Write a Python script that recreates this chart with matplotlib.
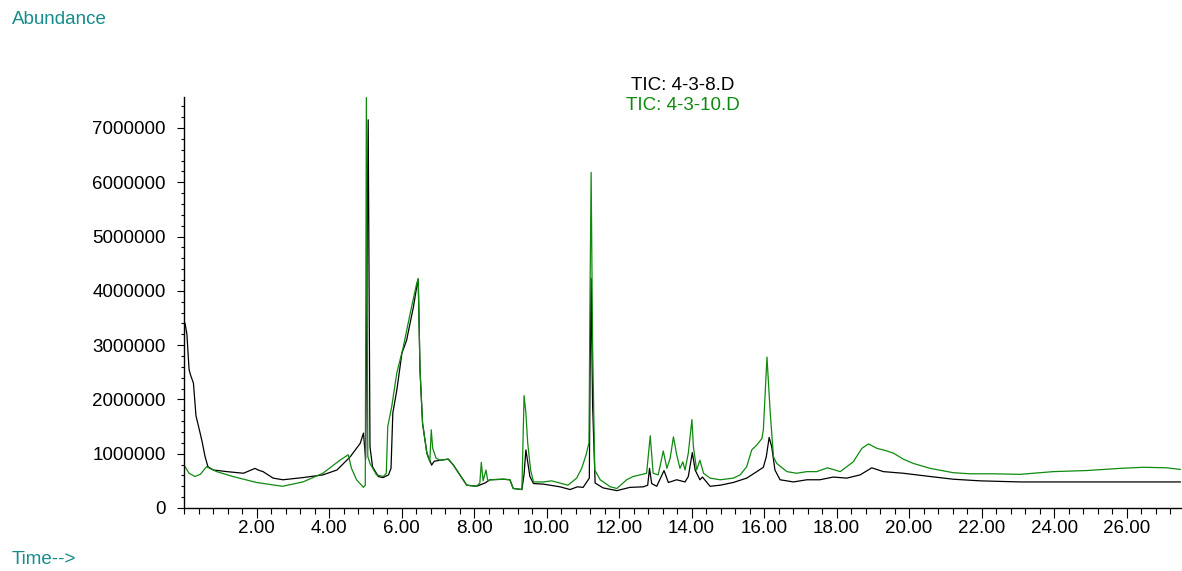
import matplotlib
matplotlib.use("Agg")
import matplotlib.pyplot as plt
from matplotlib.ticker import MultipleLocator, FixedLocator, FuncFormatter

plt.rcParams['font.family'] = ['Liberation Sans', 'DejaVu Sans']

# ---- data (time in min, abundance) ----
time_8 = [0.03, 0.08, 0.14, 0.18, 0.26, 0.33, 0.42, 0.50, 0.58, 0.66, 0.81, 1.18, 1.64, 1.96,
          2.04, 2.18, 2.46, 2.73, 3.28, 3.83, 4.22, 4.58, 4.86, 4.95, 5.01, 5.08, 5.13, 5.20,
          5.36, 5.49, 5.64, 5.71, 5.76, 5.87, 6.01, 6.14, 6.33, 6.42, 6.46, 6.51, 6.58, 6.70,
          6.83, 6.90, 7.06, 7.29, 7.43, 7.61, 7.80, 8.07, 8.30, 8.44, 8.81, 8.99, 9.08, 9.32,
          9.38, 9.43, 9.48, 9.54, 9.64, 9.91, 10.37, 10.65, 10.85, 11.01, 11.18, 11.20, 11.23,
          11.27, 11.34, 11.56, 11.94, 12.30, 12.67, 12.79, 12.84, 12.90, 13.04, 13.24, 13.36,
          13.59, 13.82, 13.91, 14.02, 14.10, 14.23, 14.30, 14.51, 14.79, 15.15, 15.52, 15.80,
          15.98, 16.06, 16.14, 16.21, 16.30, 16.44, 16.81, 17.18, 17.54, 17.91, 18.28, 18.65,
          18.97, 19.29, 19.84, 20.58, 21.22, 21.96, 23.06, 24.90, 27.48]
abund_8 = [3.40e6, 3.20e6, 2.55e6, 2.45e6, 2.30e6, 1.70e6, 1.45e6, 1.22e6, 0.95e6, 0.76e6, 0.70e6,
           0.67e6, 0.64e6, 0.73e6, 0.70e6, 0.67e6, 0.55e6, 0.52e6, 0.56e6, 0.61e6, 0.70e6, 0.94e6,
           1.19e6, 1.38e6, 0.90e6, 7.15e6, 1.13e6, 0.76e6, 0.58e6, 0.56e6, 0.61e6, 0.73e6, 1.75e6,
           2.17e6, 2.85e6, 3.09e6, 3.71e6, 4.08e6, 4.22e6, 2.54e6, 1.56e6, 1.01e6, 0.79e6, 0.86e6,
           0.88e6, 0.90e6, 0.79e6, 0.61e6, 0.42e6, 0.40e6, 0.46e6, 0.52e6, 0.53e6, 0.52e6, 0.36e6,
           0.34e6, 0.62e6, 1.07e6, 0.85e6, 0.58e6, 0.45e6, 0.44e6, 0.39e6, 0.34e6, 0.39e6, 0.38e6,
           0.55e6, 2.40e6, 4.23e6, 1.90e6, 0.46e6, 0.37e6, 0.32e6, 0.38e6, 0.39e6, 0.42e6, 0.73e6,
           0.45e6, 0.40e6, 0.69e6, 0.47e6, 0.52e6, 0.48e6, 0.58e6, 1.02e6, 0.70e6, 0.52e6, 0.57e6,
           0.40e6, 0.42e6, 0.47e6, 0.55e6, 0.67e6, 0.75e6, 0.94e6, 1.30e6, 1.13e6, 0.70e6, 0.52e6,
           0.48e6, 0.52e6, 0.52e6, 0.57e6, 0.55e6, 0.61e6, 0.74e6, 0.67e6, 0.64e6, 0.58e6, 0.53e6,
           0.50e6, 0.48e6, 0.48e6, 0.48e6]

time_10 = [0.03, 0.14, 0.30, 0.45, 0.62, 0.90, 1.35, 2.00, 2.72, 3.28, 3.83, 4.30, 4.53, 4.62,
           4.76, 4.95, 5.00, 5.03, 5.07, 5.13, 5.31, 5.50, 5.58, 5.62, 5.73, 5.87, 6.05, 6.24,
           6.42, 6.46, 6.51, 6.58, 6.70, 6.78, 6.82, 6.86, 6.95, 7.06, 7.29, 7.43, 7.61, 7.80,
           8.07, 8.16, 8.20, 8.25, 8.33, 8.38, 8.44, 8.81, 8.99, 9.08, 9.32, 9.38, 9.43, 9.48,
           9.56, 9.64, 9.91, 10.14, 10.59, 10.83, 10.97, 11.09, 11.17, 11.20, 11.23, 11.27, 11.33,
           11.48, 11.76, 11.94, 12.21, 12.39, 12.58, 12.76, 12.86, 12.94, 13.08, 13.22, 13.32,
           13.41, 13.50, 13.59, 13.68, 13.76, 13.82, 13.91, 14.01, 14.05, 14.14, 14.23, 14.33,
           14.51, 14.79, 15.15, 15.34, 15.52, 15.66, 15.80, 15.94, 15.98, 16.08, 16.17, 16.26,
           16.35, 16.63, 16.90, 17.18, 17.45, 17.75, 18.10, 18.46, 18.70, 18.88, 19.11, 19.39,
           19.57, 19.84, 20.12, 20.58, 21.22, 21.68, 22.33, 23.06, 23.98, 24.90, 25.82, 26.46,
           27.11, 27.48]
abund_10 = [0.76e6, 0.64e6, 0.58e6, 0.62e6, 0.76e6, 0.67e6, 0.58e6, 0.47e6, 0.40e6, 0.48e6, 0.64e6,
            0.88e6, 0.98e6, 0.73e6, 0.52e6, 0.38e6, 0.42e6, 7.56e6, 0.95e6, 0.82e6, 0.61e6, 0.58e6,
            0.64e6, 1.50e6, 1.87e6, 2.49e6, 2.97e6, 3.59e6, 4.14e6, 4.22e6, 2.54e6, 1.56e6, 1.00e6,
            0.85e6, 1.44e6, 1.10e6, 0.92e6, 0.88e6, 0.90e6, 0.79e6, 0.61e6, 0.42e6, 0.40e6, 0.46e6,
            0.84e6, 0.50e6, 0.70e6, 0.50e6, 0.52e6, 0.53e6, 0.52e6, 0.36e6, 0.34e6, 2.07e6, 1.75e6,
            1.20e6, 0.70e6, 0.48e6, 0.48e6, 0.50e6, 0.42e6, 0.55e6, 0.73e6, 0.98e6, 1.20e6, 4.00e6,
            6.18e6, 3.00e6, 0.70e6, 0.52e6, 0.39e6, 0.36e6, 0.52e6, 0.58e6, 0.61e6, 0.64e6, 1.33e6,
            0.64e6, 0.61e6, 1.05e6, 0.73e6, 0.92e6, 1.31e6, 0.98e6, 0.73e6, 0.85e6, 0.70e6, 1.01e6,
            1.63e6, 1.13e6, 0.70e6, 0.88e6, 0.64e6, 0.55e6, 0.52e6, 0.55e6, 0.61e6, 0.76e6, 1.07e6,
            1.16e6, 1.28e6, 1.44e6, 2.78e6, 1.75e6, 0.94e6, 0.82e6, 0.67e6, 0.64e6, 0.67e6, 0.67e6,
            0.74e6, 0.67e6, 0.85e6, 1.10e6, 1.18e6, 1.10e6, 1.05e6, 1.01e6, 0.90e6, 0.82e6, 0.73e6,
            0.65e6, 0.63e6, 0.63e6, 0.62e6, 0.67e6, 0.69e6, 0.73e6, 0.75e6, 0.74e6, 0.71e6]

label_8 = "TIC: 4-3-8.D"
label_10 = "TIC: 4-3-10.D"
x_major = [2, 4, 6, 8, 10, 12, 14, 16, 18, 20, 22, 24, 26]

GREEN = "#0e8a0e"
TEAL = "#178c8c"

fig = plt.figure(figsize=(11.82, 5.71), dpi=100)
ax = fig.add_axes([184 / 1182, 63 / 571, 997 / 1182, 411 / 571])

ax.plot(time_8, abund_8, color="black", lw=0.9)
ax.plot(time_10, abund_10, color=GREEN, lw=0.9)

ax.set_xlim(0, 27.5)
ax.set_ylim(0, 7.57e6)

for s in ("top", "right"):
    ax.spines[s].set_visible(False)
for s in ("left", "bottom"):
    ax.spines[s].set_linewidth(1.0)

ax.xaxis.set_major_locator(FixedLocator(x_major))
ax.xaxis.set_minor_locator(MultipleLocator(0.4))
ax.xaxis.set_major_formatter(FuncFormatter(lambda v, p: f"{v:.2f}"))
ax.yaxis.set_major_locator(MultipleLocator(1e6))
ax.yaxis.set_minor_locator(MultipleLocator(2e5))
ax.yaxis.set_major_formatter(FuncFormatter(lambda v, p: f"{int(round(v))}"))

ax.tick_params(axis="x", which="major", length=7.2, width=0.8, pad=1.5, labelsize=13.5)
ax.tick_params(axis="x", which="minor", length=4.3, width=0.8)
ax.tick_params(axis="y", which="major", length=5, width=0.8, pad=8, labelsize=13.5)
ax.tick_params(axis="y", which="minor", length=2.4, width=0.8)

fig.text(12 / 1182, 1 - 20 / 571, "Abundance", color=TEAL, fontsize=13.5, ha="left", va="center")
fig.text(12 / 1182, 1 - 560 / 571, "Time-->", color=TEAL, fontsize=13.5, ha="left", va="center")
fig.text(683 / 1182, 1 - 85 / 571, label_8, color="black", fontsize=13.5, ha="center", va="center")
fig.text(683 / 1182, 1 - 106 / 571, label_10, color=GREEN, fontsize=13.5, ha="center", va="center")

fig.savefig("out.png", dpi=100)
